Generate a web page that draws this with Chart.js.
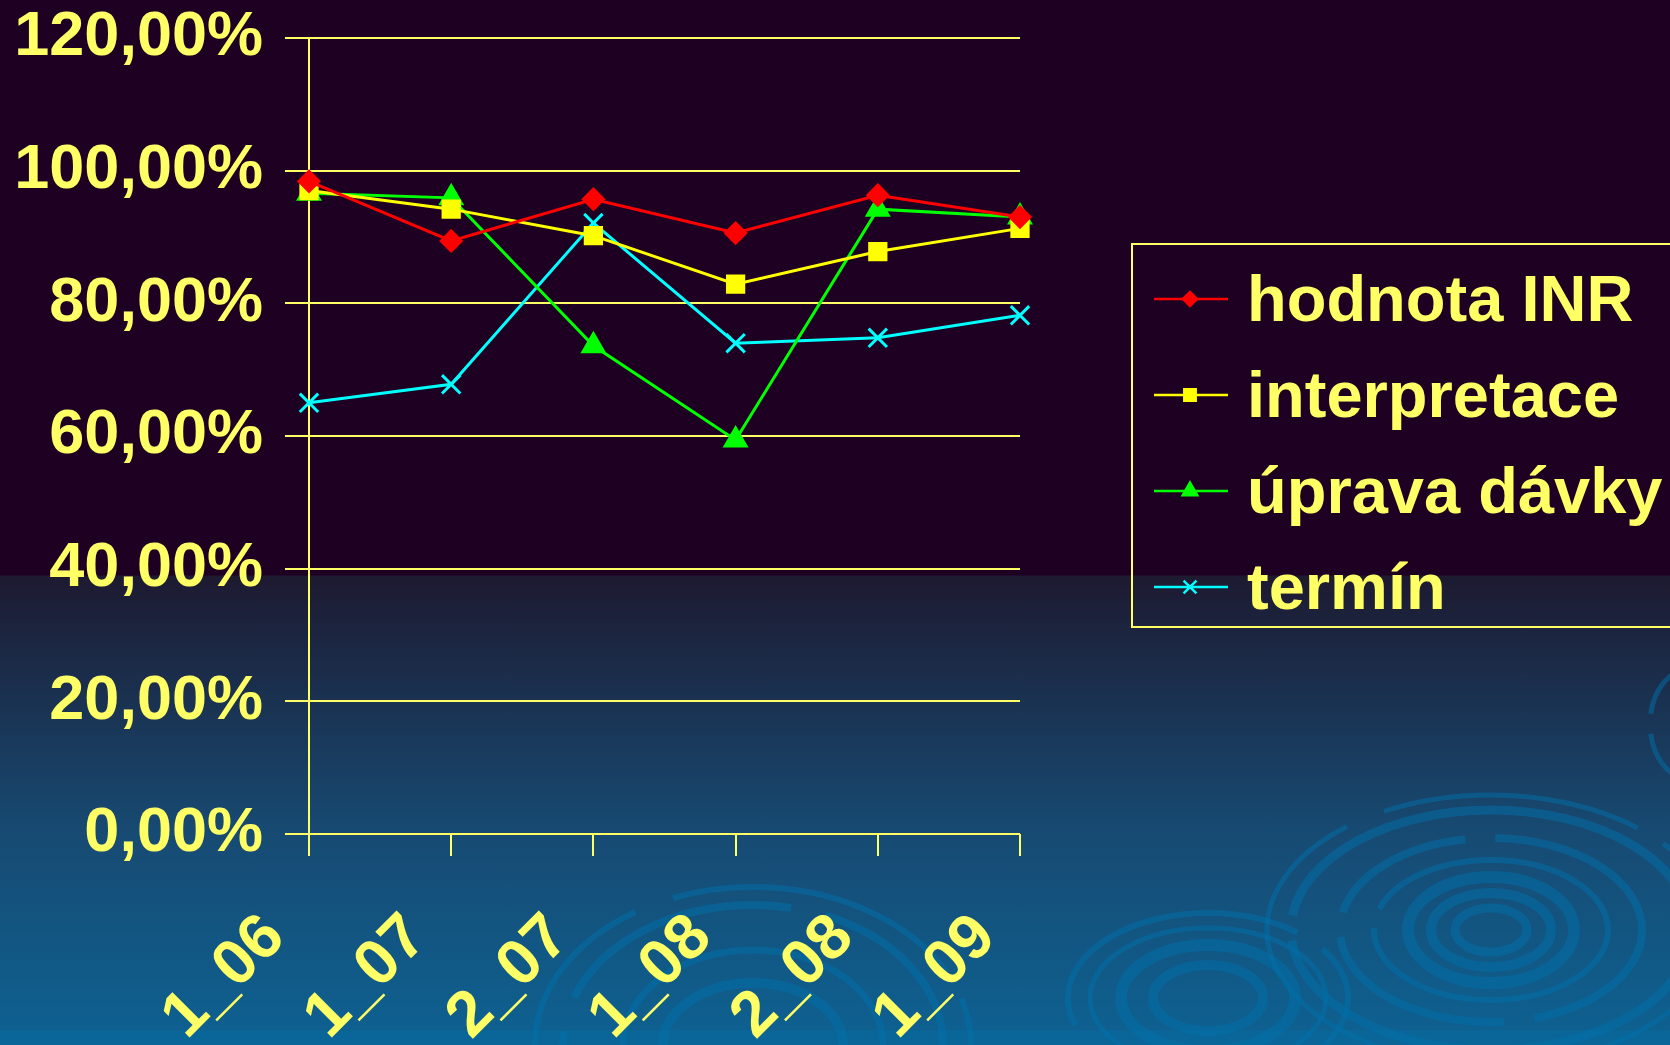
<!DOCTYPE html>
<html lang="cs">
<head>
    <meta charset="UTF-8">
    <title>INR</title>
    <style>
        html, body { margin: 0; padding: 0; }
        body {
            width: 1670px; height: 1045px; overflow: hidden;
            background: linear-gradient(to bottom, #1e0022 0px, #1e0022 575px, #1d1a31 576px, #174a72 830px, #0e6090 1030px, #0a6699 1031px, #0a6699 1045px);
        }
        #graf { display: block; }
    </style>
</head>
<body>
    <canvas id="graf" width="1670" height="1045"></canvas>
</body>
<script src="https://cdn.jsdelivr.net/npm/chart.js@4.4.0/dist/chart.umd.min.js"></script>
<script>
    // obdobi (pololeti_rok)
    var obdobi = ["1_06", "1_07", "2_07", "1_08", "2_08", "1_09"];
    var hodnotaINR = [98.4, 89.4, 95.7, 90.6, 96.3, 93.0];
    var interpretace = [97.0, 94.2, 90.2, 82.9, 87.8, 91.3];
    var upravaDavky = [96.6, 95.9, 73.6, 59.4, 94.2, 93.0];
    var termin = [65.0, 67.8, 92.1, 74.0, 74.8, 78.2];
    var osaY = [0, 20, 40, 60, 80, 100, 120];

    var zluta = '#ffff66';
    var pismo = '"Liberation Sans", Arial, sans-serif';

    // kruhy na pozadi (jen dekorace)
    var kruhy = {
        id: 'kruhy',
        beforeDraw: function(chart) {
            var ctx = chart.ctx;
            ctx.save();
            ctx.strokeStyle = 'rgba(0, 112, 170, 0.5)';
            function krouzek(cx, cy, rx, ry, w, dash) {
                ctx.lineWidth = w;
                ctx.setLineDash(dash || []);
                ctx.beginPath();
                ctx.ellipse(cx, cy, rx, ry, 0, 0, Math.PI * 2);
                ctx.stroke();
            }
            // velky vpravo dole
            krouzek(1491, 930, 224, 135, 5, [260, 30, 420, 40]);
            krouzek(1491, 930, 200, 120, 9, [500, 25]);
            krouzek(1491, 930, 151, 92, 8, [150, 30, 200, 25]);
            krouzek(1491, 930, 117, 70, 6, [300, 20]);
            krouzek(1491, 930, 83, 53, 12);
            krouzek(1491, 930, 60, 37, 10);
            krouzek(1491, 930, 36, 22, 9);
            // stredni
            krouzek(1208, 998, 140, 85, 6, [300, 30]);
            krouzek(1208, 998, 118, 70, 5);
            krouzek(1208, 998, 87, 53, 12);
            krouzek(1208, 998, 55, 33, 10);
            // levy pod osou
            krouzek(753, 1045, 218, 158, 6, [200, 40, 300, 30]);
            krouzek(753, 1045, 190, 140, 8, [250, 35]);
            krouzek(753, 1045, 130, 95, 7);
            krouzek(753, 1045, 90, 62, 10);
            // maly u praveho okraje
            krouzek(1690, 724, 40, 55, 5, [60, 20]);
            ctx.restore();
        }
    };

    // vlastni legenda v ramecku vpravo
    var legenda = {
        id: 'legenda',
        afterDraw: function(chart) {
            var ctx = chart.ctx;
            ctx.save();
            ctx.strokeStyle = zluta;
            ctx.lineWidth = 2;
            ctx.strokeRect(1132, 244, 600, 383);
            chart.data.datasets.forEach(function(ds, i) {
                var y = 299 + i * 96;
                ctx.strokeStyle = ds.borderColor;
                ctx.lineWidth = 2.5;
                ctx.beginPath();
                ctx.moveTo(1154, y);
                ctx.lineTo(1228, y);
                ctx.stroke();
                ctx.fillStyle = ds.backgroundColor;
                Chart.helpers.drawPoint(ctx, {
                    pointStyle: ds.pointStyle,
                    radius: ds.pointRadius * 0.7,
                    rotation: 0,
                    borderWidth: ds.pointBorderWidth || 1
                }, 1190, y);
                ctx.fillStyle = zluta;
                ctx.font = 'bold 65px ' + pismo;
                ctx.textBaseline = 'alphabetic';
                ctx.fillText(ds.label, 1247, y + 22);
            });
            ctx.restore();
        }
    };

    var ctx = document.getElementById('graf').getContext('2d');
    var graf = new Chart(ctx, {
        type: 'line',
        data: {
            labels: obdobi,
            datasets: [{
                label: 'hodnota INR',
                data: hodnotaINR,
                borderColor: '#ff0000',
                backgroundColor: '#ff0000',
                pointStyle: 'rectRot',
                pointRadius: 10,
                borderWidth: 3
            }, {
                label: 'interpretace',
                data: interpretace,
                borderColor: '#ffff00',
                backgroundColor: '#ffff00',
                pointStyle: 'rect',
                pointRadius: 11.5,
                borderWidth: 3
            }, {
                label: 'úprava dávky',
                data: upravaDavky,
                borderColor: '#00ff00',
                backgroundColor: '#00ff00',
                pointStyle: 'triangle',
                pointRadius: 12,
                borderWidth: 3
            }, {
                label: 'termín',
                data: termin,
                borderColor: '#00ffff',
                backgroundColor: '#00ffff',
                pointStyle: 'crossRot',
                pointRadius: 13,
                pointBorderWidth: 3,
                borderWidth: 3
            }]
        },
        options: {
            responsive: false,
            animation: false,
            devicePixelRatio: 1,
            layout: { padding: { top: 38, right: 650, left: 0, bottom: 0 } },
            plugins: {
                legend: { display: false },
                tooltip: { enabled: false }
            },
            scales: {
                x: {
                    offset: false,
                    grid: { display: true, drawOnChartArea: false, drawTicks: true, tickLength: 22, color: zluta, lineWidth: 2 },
                    border: { display: false },
                    ticks: {
                        color: zluta,
                        font: { family: pismo, size: 64, weight: 'bold' },
                        minRotation: 45,
                        maxRotation: 45,
                        autoSkip: false,
                        padding: 44,
                        labelOffset: -34
                    },
                    afterFit: function(s) { s.height = 211; s.paddingLeft = 0; s.paddingRight = 0; }
                },
                y: {
                    min: 0,
                    max: 120,
                    afterBuildTicks: function(s) { s.ticks = osaY.map(function(v) { return { value: v }; }); },
                    grid: { color: zluta, lineWidth: 2, tickLength: 24 },
                    border: { color: zluta, width: 2 },
                    ticks: {
                        color: zluta,
                        font: { family: pismo, size: 63, weight: 'bold' },
                        padding: 22,
                        callback: function(v) { return v.toFixed(2).replace('.', ',') + '%'; }
                    },
                    afterFit: function(s) { s.width = 309; s.paddingTop = 0; s.paddingBottom = 0; }
                }
            }
        },
        plugins: [kruhy, legenda]
    });
</script>
</html>
